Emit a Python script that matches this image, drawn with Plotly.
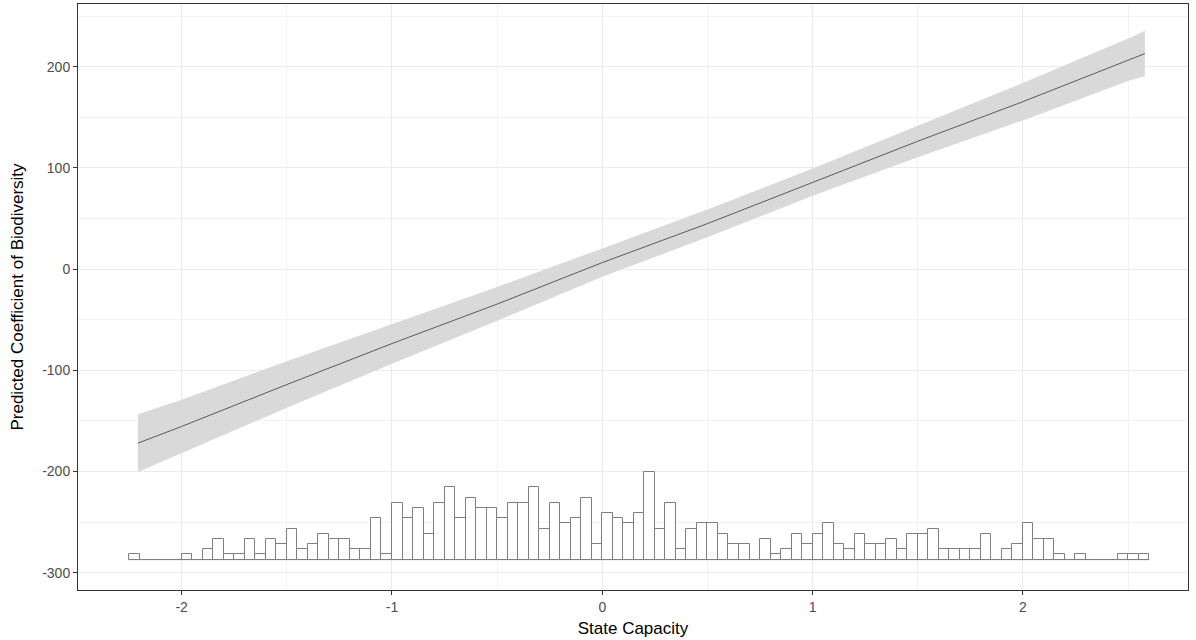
import plotly.graph_objects as go

# ---- data ----
# prediction line and 95% band (State Capacity -> predicted coefficient)
pred_x = [-2.208, -2.0, -1.5, -1.0, -0.5, 0.0, 0.5, 1.0, 1.5, 2.0, 2.5, 2.58]
pred_y = [-171.9, -155.4, -114.0, -73.5, -34.5, 6.5, 45.0, 86.0, 126.4, 165.5, 207.0, 213.0]
pred_lo = [-200.4, -181.9, -137.0, -93.5, -51.0, -7.5, 31.5, 72.5, 110.5, 147.0, 186.0, 190.5]
pred_hi = [-143.4, -128.9, -91.0, -54.5, -17.5, 20.5, 59.0, 99.5, 142.0, 184.0, 228.0, 235.5]

# histogram of State Capacity (bins of 0.05 starting at -2.25)
bin_start = -2.25
bin_width = 0.05
counts = [1, 0, 0, 0, 0, 1, 0, 2, 4, 1, 1, 4, 1, 4, 3, 6, 2, 3, 5, 4, 4, 2,
          2, 8, 1, 11, 8, 10, 5, 11, 14, 8, 12, 10, 10, 8, 11, 11, 14, 6, 11,
          7, 8, 12, 3, 9, 8, 7, 9, 17, 6, 11, 2, 6, 7, 7, 5, 3, 3, 0, 4, 1, 2,
          5, 3, 5, 7, 3, 2, 5, 3, 3, 4, 2, 5, 5, 6, 2, 2, 2, 2, 5, 0, 2, 3, 7,
          4, 4, 1, 0, 1, 0, 0, 0, 1, 1, 1]

x_ticks = [-2, -1, 0, 1, 2]
x_tick_text = ["-2", "-1", "0", "1", "2"]
y_ticks = [-300, -200, -100, 0, 100, 200]
y_tick_text = ["-300", "-200", "-100", "0", "100", "200"]

# ---- layout of the rug histogram (placement only) ----
hist_base = -287.0
hist_scale = 5.11

centers = [bin_start + bin_width * (i + 0.5) for i in range(len(counts))]
heights = [c * hist_scale for c in counts]
edge_lo = bin_start
edge_hi = bin_start + bin_width * len(counts)

fig = go.Figure()

# confidence band
fig.add_trace(go.Scatter(x=pred_x, y=pred_hi, mode="lines", line=dict(width=0),
                         showlegend=False, hoverinfo="skip"))
fig.add_trace(go.Scatter(x=pred_x, y=pred_lo, mode="lines", line=dict(width=0),
                         fill="tonexty", fillcolor="#D9D9D9",
                         showlegend=False, hoverinfo="skip"))
# prediction line
fig.add_trace(go.Scatter(x=pred_x, y=pred_y, mode="lines",
                         line=dict(color="#5A5A5A", width=1), showlegend=False))

# histogram baseline (empty bins)
fig.add_trace(go.Scatter(x=[edge_lo, edge_hi], y=[hist_base, hist_base], mode="lines",
                         line=dict(color="#7F7F7F", width=1), showlegend=False))
# histogram bars
fig.add_trace(go.Bar(x=centers, y=heights, base=hist_base, width=bin_width,
                     marker=dict(color="white", line=dict(color="#7F7F7F", width=1)),
                     showlegend=False))

axis_common = dict(
    automargin=False,
    showline=True, linecolor="#333333", linewidth=1, mirror=True,
    ticks="outside", ticklen=4, tickcolor="#333333", tickwidth=1,
    tickfont=dict(family="Liberation Sans, Arial, sans-serif", size=14, color="#4D4D4D"),
    showgrid=True, gridcolor="#EBEBEB", gridwidth=1.1, zeroline=False,
)

fig.update_layout(
    width=1196, height=640,
    margin=dict(l=78, r=8, t=4, b=50, autoexpand=False),
    paper_bgcolor="white", plot_bgcolor="white",
    bargap=0,
    font=dict(family="Liberation Sans, Arial, sans-serif", color="black"),
    xaxis=dict(axis_common, range=[-2.493, 2.785], tickvals=x_ticks, ticktext=x_tick_text,
               minor=dict(dtick=0.5, tick0=0.5, showgrid=True, gridcolor="#F2F2F2", gridwidth=0.6, ticks=""),
               title=dict(text="State Capacity", font=dict(size=17, color="black"), standoff=8)),
    yaxis=dict(axis_common, range=[-317, 262], tickvals=y_ticks, ticktext=y_tick_text,
               minor=dict(dtick=50, tick0=50, showgrid=True, gridcolor="#F2F2F2", gridwidth=0.6, ticks=""),
               title=dict(text="Predicted Coefficient of Biodiversity", font=dict(size=17, color="black"), standoff=14)),
)

fig.write_html("out.html", config={"displayModeBar": False},
               post_script="document.body.style.margin='0';document.body.style.padding='0';")
